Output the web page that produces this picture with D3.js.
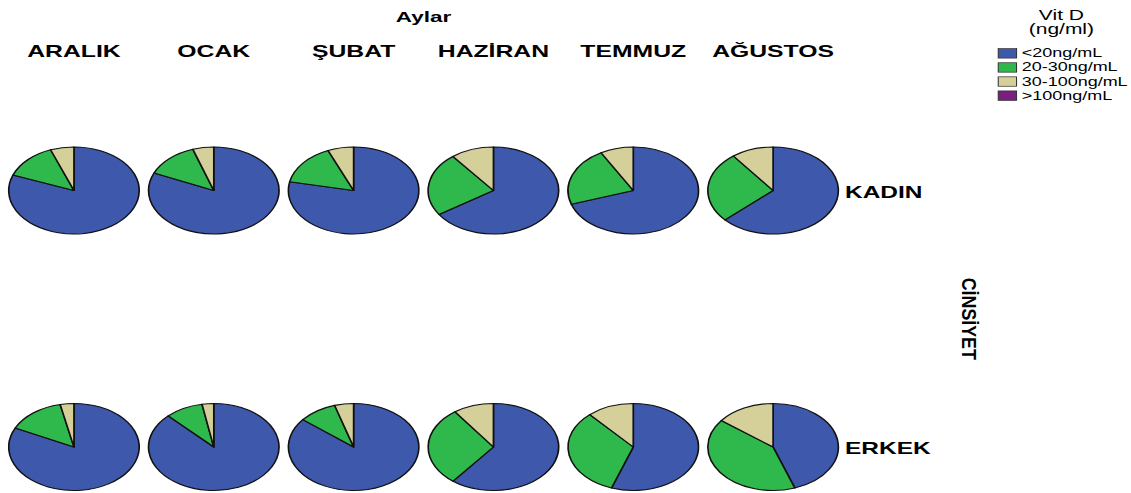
<!DOCTYPE html>
<html>
<head>
<meta charset="utf-8">
<script src="https://cdn.jsdelivr.net/npm/d3@7/dist/d3.min.js"></script>
<style>
  html, body { margin: 0; padding: 0; background: #fff; }
  svg { display: block; font-family: "Liberation Sans", Arial, sans-serif; }
</style>
</head>
<body>
<svg id="chart" width="1131" height="493"></svg>
<script>
// ---- data ----
const months = ["ARALIK", "OCAK", "ŞUBAT", "HAZİRAN", "TEMMUZ", "AĞUSTOS"];
const genders = ["KADIN", "ERKEK"];
const categories = ["<20ng/mL", "20-30ng/mL", "30-100ng/mL", ">100ng/mL"];
const colors = ["#3e58ac", "#2fb84b", "#d5cf99", "#7a1f7e"];
// percentages per month, order of categories: <20, 20-30, 30-100, >100
const kadin = [
  [80.8, 13.4, 5.8, 0],
  [81.6, 13.2, 5.2, 0],
  [78.2, 15.4, 6.4, 0],
  [65.7, 23.6, 10.7, 0],
  [69.9, 21.9, 8.2, 0],
  [63.2, 26.4, 10.4, 0]
];
const erkek = [
  [82.2, 14.4, 3.4, 0],
  [87.7, 9.4, 2.9, 0],
  [85.8, 9.5, 4.7, 0],
  [60.6, 29.4, 10.0, 0],
  [55.4, 33.0, 11.6, 0],
  [44.6, 40.8, 14.6, 0]
];
const seriesByGender = { "KADIN": kadin, "ERKEK": erkek };

// ---- layout ----
const W = 1131, H = 493;
const sx = 1.5;               // horizontal stretch of the whole picture
const svg = d3.select("#chart");
const root = svg.append("g").attr("transform", `scale(${sx},1)`);

const x = d3.scaleBand().domain(months).range([2.7, 562]).padding(0);
const cx = m => x(m) + x.bandwidth() / 2;
const y = d3.scalePoint().domain(genders).range([190.5, 447]);
const r = 43.5;

const color = d3.scaleOrdinal().domain(categories).range(colors);
const pie = d3.pie().sort(null).value(d => d.v);
const arc = d3.arc().innerRadius(0).outerRadius(r);

// title
root.append("text")
  .attr("x", (cx(months[0]) + cx(months[months.length - 1])) / 2)
  .attr("y", 22)
  .attr("text-anchor", "middle")
  .attr("font-weight", "bold")
  .attr("font-size", 15)
  .text("Aylar");

// column labels
root.selectAll(".col").data(months).join("text")
  .attr("class", "col")
  .attr("x", d => cx(d))
  .attr("y", 57)
  .attr("text-anchor", "middle")
  .attr("font-weight", "bold")
  .attr("font-size", 16.5)
  .text(d => d);

// pies
genders.forEach(g => {
  months.forEach((m, i) => {
    const vals = seriesByGender[g][i].map((v, k) => ({ v, cat: categories[k] }));
    const grp = root.append("g").attr("transform", `translate(${cx(m)},${y(g)})`);
    grp.selectAll("path").data(pie(vals).filter(d => d.data.v > 0)).join("path")
      .attr("d", arc)
      .attr("fill", d => color(d.data.cat))
      .attr("stroke", "#111")
      .attr("stroke-width", 1.1)
      .attr("stroke-linejoin", "round");
  });
});

// row labels
const lastX = cx(months[months.length - 1]) + r + 4.5;
root.selectAll(".row").data(genders).join("text")
  .attr("class", "row")
  .attr("x", lastX)
  .attr("y", d => y(d) + 7.5)
  .attr("font-weight", "bold")
  .attr("font-size", 16.3)
  .text(d => d);

// facet axis title
const midY = (y(genders[0]) + y(genders[1])) / 2;
root.append("text")
  .attr("transform", `translate(641,${midY}) rotate(90)`)
  .attr("text-anchor", "middle")
  .attr("font-weight", "bold")
  .attr("font-size", 14)
  .attr("textLength", 82)
  .attr("lengthAdjust", "spacingAndGlyphs")
  .text("CİNSİYET");

// legend
const lg = root.append("g");
const legX = 665.5;
lg.append("text").attr("x", 707.6).attr("y", 20).attr("text-anchor", "middle")
  .attr("font-size", 14).text("Vit D");
lg.append("text").attr("x", 707.6).attr("y", 34).attr("text-anchor", "middle")
  .attr("font-size", 14).text("(ng/ml)");
const ly = d3.scaleBand().domain(categories).range([44, 105]).padding(0.33);
lg.selectAll("rect").data(categories).join("rect")
  .attr("x", legX)
  .attr("y", d => ly(d))
  .attr("width", 12.2)
  .attr("height", ly.bandwidth())
  .attr("fill", d => color(d))
  .attr("stroke", "#333")
  .attr("stroke-width", 0.7);
lg.selectAll(".lt").data(categories).join("text")
  .attr("class", "lt")
  .attr("x", legX + 15.6)
  .attr("y", d => ly(d) + ly.bandwidth() / 2 + 4)
  .attr("font-size", 12)
  .text(d => d);
</script>
</body>
</html>
